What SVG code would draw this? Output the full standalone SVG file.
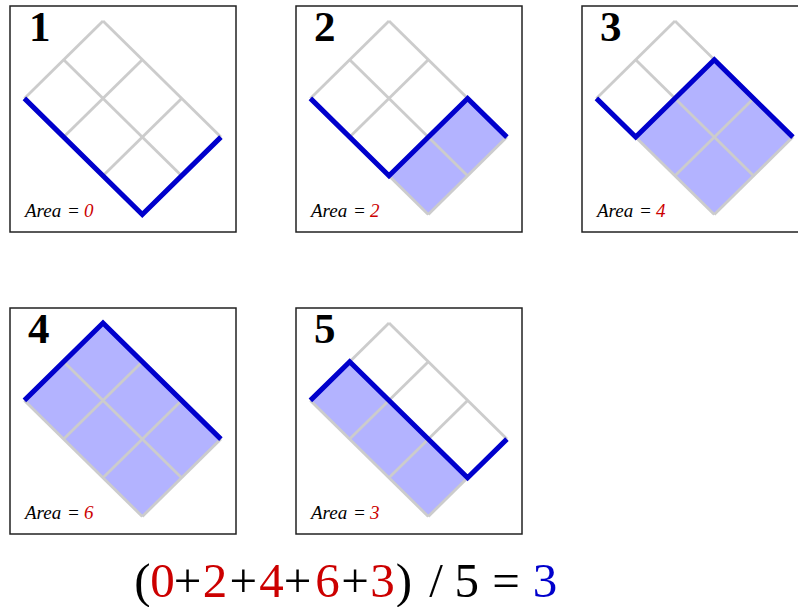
<svg xmlns="http://www.w3.org/2000/svg" xmlns:xlink="http://www.w3.org/1999/xlink" width="798" height="607" viewBox="0 0 798 607">
  <style>
    .box { fill: #ffffff; stroke: #222222; stroke-width: 1.5; }
    .fill { fill: #b3b3ff; stroke: none; }
    .grid { stroke: #cccccc; stroke-width: 2.8; fill: none; stroke-linecap: butt; }
    .path { stroke: #0000cc; stroke-width: 5; fill: none; stroke-linejoin: miter; stroke-linecap: butt; }
    .num { font-family: "Liberation Serif", "Times New Roman", serif; font-weight: bold; font-size: 43px; fill: #000000; }
    .area { font-family: "Liberation Serif", "Times New Roman", serif; font-style: italic; font-size: 19px; fill: #000000; }
    .red { fill: #cc0000; }
    .blue { fill: #0000cc; }
    .eq { font-family: "Liberation Serif", "Times New Roman", serif; font-size: 49px; fill: #000000; text-anchor: middle; }
  </style>
  <defs>
    <g id="gridlines" class="grid">
      <line x1="93" y1="15" x2="14.4" y2="92.4"/>
      <line x1="132.3" y1="53.7" x2="53.7" y2="131.1"/>
      <line x1="171.6" y1="92.4" x2="93" y2="169.8"/>
      <line x1="210.9" y1="131.1" x2="132.3" y2="208.5"/>
      <line x1="93" y1="15" x2="210.9" y2="131.1"/>
      <line x1="53.7" y1="53.7" x2="171.6" y2="169.8"/>
      <line x1="14.4" y1="92.4" x2="132.3" y2="208.5"/>
    </g>
  </defs>

  <g id="panel1" transform="translate(10,6)">
    <rect class="box" x="0" y="0" width="226" height="226"/>
    <use xlink:href="#gridlines" href="#gridlines"/>
    <path class="path" d="M14.4,92.4 L132.3,208.5 L210.9,131.1"/>
    <text class="num" x="19" y="35">1</text>
    <text class="area" x="15" y="211">Area<tspan x="57">=</tspan><tspan class="red" x="74">0</tspan></text>
  </g>

  <g id="panel2" transform="translate(296,6)">
    <rect class="box" x="0" y="0" width="226" height="226"/>
    <polygon class="fill" points="171.6,92.4 210.9,131.1 132.3,208.5 93,169.8"/>
    <use xlink:href="#gridlines" href="#gridlines"/>
    <path class="path" d="M14.4,92.4 L93,169.8 L171.6,92.4 L210.9,131.1"/>
    <text class="num" x="18" y="35">2</text>
    <text class="area" x="15" y="211">Area<tspan x="57">=</tspan><tspan class="red" x="74">2</tspan></text>
  </g>

  <g id="panel3" transform="translate(582,6)">
    <rect class="box" x="0" y="0" width="226" height="226"/>
    <polygon class="fill" points="132.3,53.7 210.9,131.1 132.3,208.5 53.7,131.1"/>
    <use xlink:href="#gridlines" href="#gridlines"/>
    <path class="path" d="M14.4,92.4 L53.7,131.1 L132.3,53.7 L210.9,131.1"/>
    <text class="num" x="18" y="35">3</text>
    <text class="area" x="15" y="211">Area<tspan x="57">=</tspan><tspan class="red" x="74">4</tspan></text>
  </g>

  <g id="panel4" transform="translate(10,308)">
    <rect class="box" x="0" y="0" width="226" height="226"/>
    <polygon class="fill" points="93,15 210.9,131.1 132.3,208.5 14.4,92.4"/>
    <use xlink:href="#gridlines" href="#gridlines"/>
    <path class="path" d="M14.4,92.4 L93,15 L210.9,131.1"/>
    <text class="num" x="18" y="35">4</text>
    <text class="area" x="15" y="211">Area<tspan x="57">=</tspan><tspan class="red" x="74">6</tspan></text>
  </g>

  <g id="panel5" transform="translate(296,308)">
    <rect class="box" x="0" y="0" width="226" height="226"/>
    <polygon class="fill" points="53.7,53.7 171.6,169.8 132.3,208.5 14.4,92.4"/>
    <use xlink:href="#gridlines" href="#gridlines"/>
    <path class="path" d="M14.4,92.4 L53.7,53.7 L171.6,169.8 L210.9,131.1"/>
    <text class="num" x="18" y="35">5</text>
    <text class="area" x="15" y="211">Area<tspan x="57">=</tspan><tspan class="red" x="74">3</tspan></text>
  </g>

  <g id="equation">
    <text class="eq" y="597"><tspan x="142.5">(</tspan><tspan class="red" x="162.5">0</tspan><tspan x="187.5">+</tspan><tspan class="red" x="215">2</tspan><tspan x="243.3">+</tspan><tspan class="red" x="271.5">4</tspan><tspan x="297.5">+</tspan><tspan class="red" x="327.5">6</tspan><tspan x="355">+</tspan><tspan class="red" x="382.5">3</tspan><tspan x="404">)</tspan><tspan x="436">/</tspan><tspan x="466.7">5</tspan><tspan x="506">=</tspan><tspan class="blue" x="545">3</tspan></text>
  </g>
</svg>
